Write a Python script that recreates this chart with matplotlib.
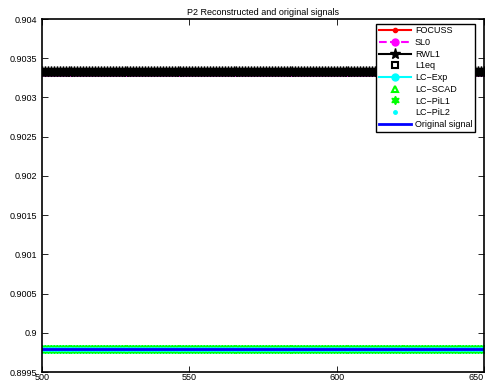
import numpy as np
import matplotlib
matplotlib.use("Agg")
import matplotlib.pyplot as plt
from matplotlib.ticker import FuncFormatter

# datos: senal reconstruida constante en el tramo 500..650
x_start, x_end = 500, 650
methods = ["FOCUSS", "SL0", "RWL1", "L1eq", "LC\u2212Exp", "LC\u2212SCAD",
           "LC\u2212PiL1", "LC\u2212PiL2", "Original signal"]
levels = [0.90332, 0.90332, 0.90332, 0.90332, 0.89979, 0.89979,
          0.89979, 0.89979, 0.89979]
y_ticks = [0.8995, 0.9, 0.9005, 0.901, 0.9015, 0.902, 0.9025, 0.903, 0.9035, 0.904]
x_ticks = [500, 550, 600, 650]

styles = [
    dict(color="red", ls="-", marker=".", ms=6, lw=1.5),
    dict(color="magenta", ls="--", marker="o", ms=5, lw=1.5, mfc="magenta"),
    dict(color="black", ls="-", marker="*", ms=8, lw=1.5),
    dict(color="black", ls="none", marker="s", ms=4, mfc="none", mew=1.5),
    dict(color="cyan", ls="-", marker="o", ms=5, lw=1.5, mfc="cyan"),
    dict(color="lime", ls="none", marker="^", ms=5, mfc="none", mew=1.5),
    dict(color="lime", ls="none", marker=(6, 1, 0), ms=6, mew=1),
    dict(color="cyan", ls="none", marker=".", ms=5),
    dict(color="blue", ls="-", marker="none", lw=2),
]

plt.rcParams["font.family"] = ["Liberation Sans", "DejaVu Sans"]
fig = plt.figure(figsize=(4.9, 3.89), dpi=100)
ax = fig.add_axes([0.0857, 0.0437, 0.9021, 0.9073])

xs = np.arange(x_start, x_end + 1)
for name, lvl, st in zip(methods, levels, styles):
    ax.plot(xs, [lvl] * len(xs), label=name, **st)

ax.set_xlim(x_start, x_end)
ax.set_ylim(y_ticks[0], y_ticks[-1])
ax.set_xticks(x_ticks)
ax.set_yticks(y_ticks)
ax.yaxis.set_major_formatter(FuncFormatter(lambda v, p: "%g" % v))
ax.tick_params(direction="in", labelsize=6.5, length=4, width=0.6,
               top=True, right=True)
ax.tick_params(axis="x", pad=1)
# ultima etiqueta del eje x alineada a la derecha para que no se corte
ax.get_xticklabels()[-1].set_horizontalalignment("right")
for s in ax.spines.values():
    s.set_linewidth(1.2)

ax.set_title("P2 Reconstructed and original signals", fontsize=6.5, pad=3)
leg = ax.legend(loc="upper right", fontsize=6.5, fancybox=False,
                edgecolor="black", framealpha=1, labelspacing=0.3,
                handlelength=3.6, borderpad=0.3, borderaxespad=0.5,
                handletextpad=0.4, bbox_to_anchor=(0.99, 1.0))
leg.get_frame().set_linewidth(1.0)

fig.savefig("out.png", dpi=100)
